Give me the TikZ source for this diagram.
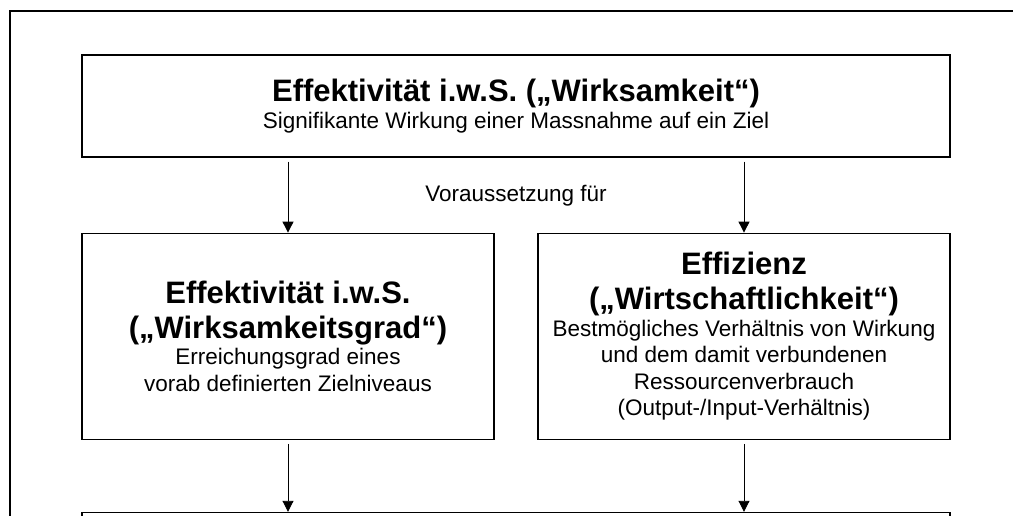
\documentclass[tikz,border=0pt]{standalone}
\usepackage{fontspec}
\setmainfont{Liberation Sans}
\usetikzlibrary{arrows.meta,positioning}
\newcommand{\headfont}{\fontsize{31}{35}\selectfont\bfseries}
\newcommand{\bodyfont}{\fontsize{22.5}{26.5}\selectfont}
\newcommand{\boxfont}{\bodyfont\lineskiplimit=-30pt\relax}
\begin{document}
\begin{tikzpicture}[x=1pt,y=-1pt,
	box/.style={draw,line width=1.2pt,rectangle,align=center,inner sep=0pt,
		font=\boxfont},
	pfeil/.style={-{Triangle[length=11pt,width=11pt]},line width=0.9pt,shorten <=4pt}]
\useasboundingbox (0,0) rectangle (1013,516);
% outer frame
\draw[line width=2pt] (1030,11) -- (9.5,11) -- (9.5,540);
\node[box,minimum width=868pt,minimum height=102pt] (wirk) at (516,106)
	{{\headfont Effektivität i.w.S. („Wirksamkeit“)}\\
	Signifikante Wirkung einer Massnahme auf ein Ziel};
\node[box,minimum width=412pt,minimum height=206pt,
	below=75pt of wirk.south west,anchor=north west] (grad)
	{{\headfont Effektivität i.w.S.}\\[8.5pt]
	{\headfont („Wirksamkeitsgrad“)}\\
	Erreichungsgrad eines\\
	vorab definierten Zielniveaus};
\node[box,minimum width=412pt,minimum height=206pt,
	below=75pt of wirk.south east,anchor=north east] (effz)
	{{\headfont Effizienz}\\[8.5pt]
	{\headfont („Wirtschaftlichkeit“)}\\
	Bestmögliches Verhältnis von Wirkung\\
	und dem damit verbundenen\\
	Ressourcenverbrauch\\
	(Output-/Input-Verhältnis)};
\node[box,minimum width=868pt,minimum height=100pt,
	below=72pt of grad.south west,anchor=north west] (ziel) {};
\node[anchor=base,font=\bodyfont] (vor) at (516,202) {Voraussetzung für};
% arrows
\draw[pfeil] (wirk.south -| grad.north) -- (grad.north);
\draw[pfeil] (wirk.south -| effz.north) -- (effz.north);
\draw[pfeil] (grad.south) -- (grad.south |- ziel.north);
\draw[pfeil] (effz.south) -- (effz.south |- ziel.north);
\end{tikzpicture}
\end{document}
